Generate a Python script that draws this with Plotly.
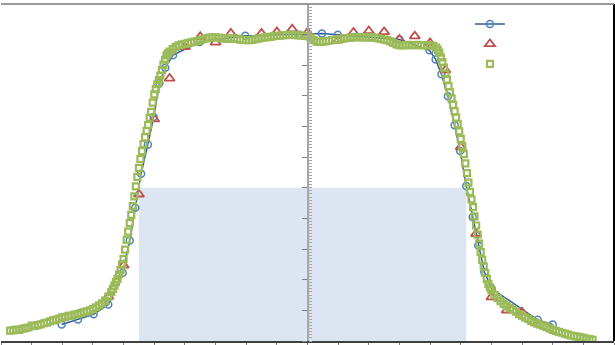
import plotly.graph_objects as go

# ---- data ----
blue_x = [-8.02, -7.49, -6.98, -6.50, -6.03, -5.80, -5.62, -5.43, -5.21, -5.02, -4.83, -4.64,
          -4.39, -3.52, -2.03, -0.26, 0.47, 0.99, 3.00, 3.98, 4.18, 4.37, 4.58, 4.80, 4.98,
          5.18, 5.39, 5.57, 5.77, 6.01, 7.51, 8.00]
blue_y = [0.054, 0.070, 0.087, 0.119, 0.223, 0.328, 0.435, 0.546, 0.641, 0.731, 0.842, 0.892,
          0.933, 0.976, 0.996, 1.000, 1.004, 1.000, 0.984, 0.949, 0.919, 0.871, 0.799, 0.704, 0.620,
          0.506, 0.404, 0.312, 0.225, 0.171, 0.069, 0.054]

red_x = [-6.5, -6.0, -5.5, -5.0, -4.5, -4.0, -3.5, -3.0, -2.5, -1.5, -1.0, -0.5, 0.0,
         1.0, 1.5, 2.0, 2.5, 3.0, 3.5, 4.0, 4.5, 5.0, 5.5, 6.0, 6.5, 7.0]
red_y = [0.145, 0.247, 0.479, 0.724, 0.857, 0.960, 0.993, 0.975, 1.004, 1.004, 1.009, 1.018, 1.007,
         0.982, 1.007, 1.012, 1.009, 0.984, 0.995, 0.973, 0.884, 0.633, 0.350, 0.143, 0.100, 0.094]

green_x = [-9.7, -9.6, -9.5, -9.4, -9.3, -9.2, -9.1, -9.0, -8.9, -8.8, -8.7, -8.6, -8.5, -8.4,
           -8.3, -8.2, -8.1, -8.0, -7.9, -7.8, -7.7, -7.6, -7.5, -7.4, -7.3, -7.2, -7.1, -7.0,
           -6.9, -6.8, -6.7, -6.6, -6.5,
           -6.40, -6.35, -6.30, -6.25, -6.20, -6.15, -6.10, -6.05, -6.00, -5.95, -5.90, -5.85,
           -5.80, -5.75, -5.70, -5.65, -5.60, -5.55, -5.50, -5.45, -5.40, -5.35, -5.30, -5.25,
           -5.20, -5.15, -5.10, -5.05, -5.00, -4.95, -4.90, -4.85, -4.80, -4.75, -4.70, -4.65,
           -4.60, -4.55, -4.50,
           -4.4, -4.3, -4.2, -4.1, -4.0, -3.9, -3.8, -3.7, -3.6, -3.5, -3.4, -3.3, -3.2, -3.1,
           -3.0, -2.9, -2.8, -2.7, -2.6, -2.5, -2.4, -2.3, -2.2, -2.1, -2.0, -1.9, -1.8, -1.7,
           -1.6, -1.5, -1.4, -1.3, -1.2, -1.1, -1.0, -0.9, -0.8, -0.7, -0.6, -0.5, -0.4, -0.3,
           -0.2, -0.1, 0.0, 0.1, 0.2, 0.3, 0.4, 0.5, 0.6, 0.7, 0.8, 0.9, 1.0, 1.1, 1.2, 1.3,
           1.4, 1.5, 1.6, 1.7, 1.8, 1.9, 2.0, 2.1, 2.2, 2.3, 2.4, 2.5, 2.6, 2.7, 2.8, 2.9, 3.0,
           3.1, 3.2, 3.3, 3.4, 3.5, 3.6, 3.7, 3.8, 3.9, 4.0, 4.1,
           4.20, 4.25, 4.30, 4.35, 4.40, 4.45, 4.50, 4.55, 4.60, 4.65, 4.70, 4.75, 4.80, 4.85,
           4.90, 4.95, 5.00, 5.05, 5.10, 5.15, 5.20, 5.25, 5.30, 5.35, 5.40, 5.45, 5.50, 5.55,
           5.60, 5.65, 5.70, 5.75, 5.80, 5.85, 5.90, 5.95, 6.00,
           6.1, 6.2, 6.3, 6.4, 6.5, 6.6, 6.7, 6.8, 6.9, 7.0, 7.1, 7.2, 7.3, 7.4, 7.5, 7.6, 7.7,
           7.8, 7.9, 8.0, 8.1, 8.2, 8.3, 8.4, 8.5, 8.6, 8.7, 8.8, 8.9, 9.0, 9.1, 9.2, 9.3]
green_y = [0.034, 0.035, 0.037, 0.036, 0.040, 0.042, 0.044, 0.050, 0.049, 0.052, 0.054, 0.058,
           0.060, 0.064, 0.067, 0.070, 0.073, 0.077, 0.079, 0.082, 0.083, 0.086, 0.088, 0.091,
           0.094, 0.097, 0.100, 0.104, 0.110, 0.116, 0.123, 0.132, 0.145,
           0.160, 0.170, 0.181, 0.192, 0.203, 0.217, 0.232, 0.250, 0.268, 0.298, 0.330, 0.357,
           0.385, 0.412, 0.440, 0.472, 0.505, 0.536, 0.565, 0.594, 0.620, 0.643, 0.665, 0.686,
           0.705, 0.728, 0.748, 0.778, 0.805, 0.822, 0.838, 0.852, 0.866, 0.884, 0.902, 0.918,
           0.932, 0.939, 0.945,
           0.953, 0.960, 0.965, 0.968, 0.970, 0.972, 0.975, 0.977, 0.979, 0.982, 0.985, 0.988,
           0.990, 0.991, 0.991, 0.990, 0.989, 0.987, 0.986, 0.987, 0.988, 0.986, 0.984, 0.983,
           0.982, 0.982, 0.983, 0.985, 0.987, 0.989, 0.991, 0.992, 0.993, 0.995, 0.996, 0.997,
           0.998, 0.998, 0.999, 0.999, 0.998, 0.998, 0.997, 0.996, 0.995, 0.990, 0.982, 0.977,
           0.976, 0.977, 0.979, 0.980, 0.982, 0.983, 0.984, 0.986, 0.988, 0.989, 0.990, 0.991,
           0.992, 0.992, 0.991, 0.991, 0.991, 0.991, 0.990, 0.988, 0.986, 0.984, 0.982, 0.978,
           0.973, 0.968, 0.966, 0.965, 0.966, 0.967, 0.966, 0.966, 0.967, 0.966, 0.965, 0.966,
           0.965, 0.963,
           0.958, 0.950, 0.941, 0.926, 0.910, 0.892, 0.873, 0.853, 0.832, 0.812, 0.792, 0.771,
           0.750, 0.729, 0.708, 0.684, 0.660, 0.636, 0.610, 0.580, 0.548, 0.517, 0.487, 0.462,
           0.437, 0.407, 0.377, 0.347, 0.318, 0.290, 0.265, 0.243, 0.222, 0.203, 0.186, 0.175,
           0.165,
           0.151, 0.140, 0.130, 0.121, 0.114, 0.107, 0.102, 0.096, 0.088, 0.083, 0.077, 0.072,
           0.066, 0.061, 0.057, 0.053, 0.049, 0.045, 0.041, 0.036, 0.033, 0.030, 0.027, 0.024,
           0.021, 0.018, 0.016, 0.014, 0.012, 0.010, 0.008, 0.006, 0.004]

# full width at half maximum band
fwhm_left = -5.50
fwhm_right = 5.18
half_max = 0.5

fig = go.Figure()

fig.add_shape(type="rect", xref="x", yref="y", x0=fwhm_left, x1=fwhm_right, y0=0, y1=half_max,
              fillcolor="#DCE6F2", line=dict(width=0), layer="below")

fig.add_trace(go.Scatter(
    x=blue_x, y=blue_y, mode="lines+markers", name=" ",
    line=dict(color="#2F5A96", width=1.5),
    marker=dict(symbol="circle-open", size=7, color="#4F81BD", line=dict(width=1.5)),
))
fig.add_trace(go.Scatter(
    x=red_x, y=red_y, mode="markers", name=" ",
    marker=dict(symbol="triangle-up-open", size=9, color="#C0504D", line=dict(width=1.8)),
))
fig.add_trace(go.Scatter(
    x=green_x, y=green_y, mode="markers", name=" ",
    marker=dict(symbol="square-open", size=6, color="#9BBB59", line=dict(width=2.2)),
))

fig.update_layout(
    width=615, height=345,
    margin=dict(l=1, r=1, t=4, b=4),
    paper_bgcolor="white", plot_bgcolor="white",
    showlegend=True,
    legend=dict(x=0.765, y=0.985, xanchor="left", yanchor="top",
                bgcolor="rgba(0,0,0,0)", font=dict(size=13, color="white"),
                tracegroupgap=0),
    xaxis=dict(range=[-10, 10], showgrid=False, zeroline=False, showticklabels=False,
               showline=True, linecolor="#404040", linewidth=1.5,
               ticks="outside", ticklen=4, tickcolor="#808080", tickwidth=1,
               tick0=-10, dtick=1),
    yaxis=dict(range=[0, 1.1], showgrid=False, zeroline=False, showticklabels=False,
               anchor="free", position=0.5, side="left",
               showline=True, linecolor="#A6A6A6", linewidth=2,
               ticks="outside", ticklen=5, tickcolor="#7F7F7F", tickwidth=1,
               tick0=0, dtick=0.1,
               minor=dict(ticks="inside", ticklen=3, tickcolor="#A6A6A6", dtick=0.01, tickwidth=1)),
    shapes=[
        dict(type="line", xref="paper", yref="paper", x0=0, x1=0, y0=0, y1=1,
             line=dict(color="black", width=2)),
        dict(type="line", xref="paper", yref="paper", x0=1, x1=1, y0=0, y1=1,
             line=dict(color="black", width=2)),
        dict(type="line", xref="paper", yref="paper", x0=0, x1=1, y0=1, y1=1,
             line=dict(color="#9A9A9A", width=2)),
    ],
)

fig.write_html("out.html")
